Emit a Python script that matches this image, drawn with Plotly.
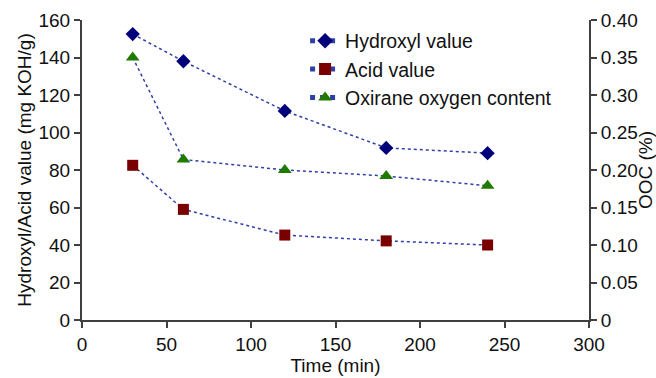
import plotly.graph_objects as go

time = [30, 60, 120, 180, 240]
hydroxyl = [152.5, 138, 111.5, 91.8, 89]
acid = [82.5, 59, 45.3, 42.2, 40]
ooc = [0.35, 0.214, 0.20, 0.192, 0.179]

x_ticks = [0, 50, 100, 150, 200, 250, 300]
y_ticks = [0, 20, 40, 60, 80, 100, 120, 140, 160]
y2_ticks = [0, 0.05, 0.10, 0.15, 0.20, 0.25, 0.30, 0.35, 0.40]
y2_labels = ["0", "0.05", "0.10", "0.15", "0.20", "0.25", "0.30", "0.35", "0.40"]

line_col = "#2f3fa8"
fig = go.Figure()
fig.add_trace(go.Scatter(x=time, y=hydroxyl, name="Hydroxyl value", mode="lines+markers",
                         line=dict(color=line_col, dash="dot", width=1.5),
                         marker=dict(symbol="diamond", size=11, color="#00007a")))
fig.add_trace(go.Scatter(x=time, y=acid, name="Acid value", mode="lines+markers",
                         line=dict(color=line_col, dash="dot", width=1.5),
                         marker=dict(symbol="square", size=11, color="#7a0000")))
fig.add_trace(go.Scatter(x=time, y=ooc, name="Oxirane oxygen content", mode="lines+markers", yaxis="y2",
                         line=dict(color=line_col, dash="dot", width=1.5),
                         marker=dict(symbol="triangle-up", size=12, color="#1f7a00")))

axis_common = dict(showgrid=False, zeroline=False, showline=True, linecolor="#404040", linewidth=2,
                   ticks="outside", ticklen=6, tickwidth=2, tickcolor="#404040",
                   tickfont=dict(size=19, color="#111"), automargin=False)
fig.update_layout(
    width=656, height=378,
    margin=dict(l=82, r=67, t=20, b=58),
    paper_bgcolor="white", plot_bgcolor="white",
    font=dict(family="Liberation Sans, Arial, sans-serif", color="#111"),
    xaxis=dict(range=[0, 300], tickvals=x_ticks, title=dict(text="Time (min)", font=dict(size=19), standoff=4), **axis_common),
    yaxis=dict(range=[0, 160], tickvals=y_ticks, title=dict(text="Hydroxyl/Acid value (mg KOH/g)", font=dict(size=19), standoff=2), **axis_common),
    yaxis2=dict(range=[0, 0.40], tickvals=y2_ticks, ticktext=y2_labels, overlaying="y", side="right",
                title=dict(text="OOC (%)", font=dict(size=19), standoff=0), **axis_common),
    legend=dict(x=0.44, y=0.995, xanchor="left", yanchor="top", bgcolor="rgba(0,0,0,0)",
                font=dict(size=19.5), itemsizing="constant", tracegroupgap=0),
    showlegend=True,
)
fig.write_html("out.html")
